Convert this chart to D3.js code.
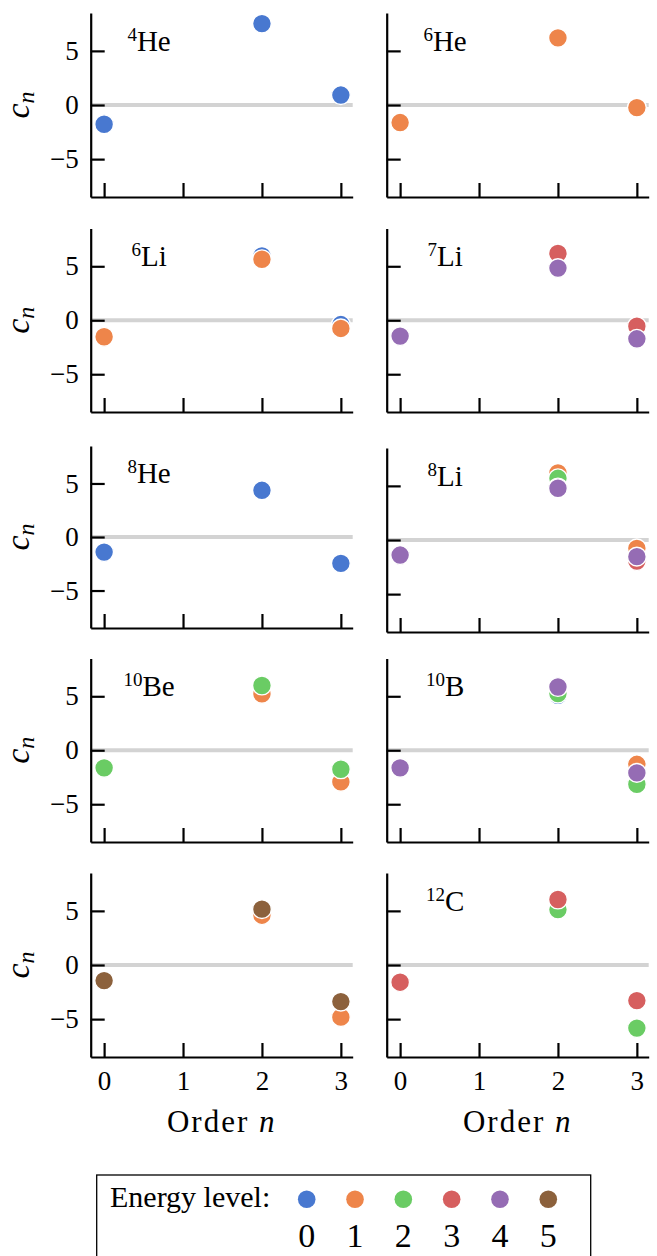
<!DOCTYPE html>
<html>
<head>
<meta charset="utf-8">
<script src="https://cdn.jsdelivr.net/npm/d3@7"></script>
<style>
  html, body { margin: 0; padding: 0; background: #fff; }
  svg { display: block; }
  svg text { font-family: "Liberation Serif", serif !important; fill: #000; }
</style>
</head>
<body>
<svg id="chart" width="657" height="1256"></svg>
<script>
// ---------------- data ----------------
const orders = [0, 2, 3];                 // order n of each value below
const xTicks = [0, 1, 2, 3];
const yTicks = [-5, 0, 5];
const levels = [0, 1, 2, 3, 4, 5];
const levelColors = ["#4878d0", "#ee854a", "#6acc64", "#d65f5f", "#956cb4", "#8c613c"];

const massNumbers = ["4", "6", "6", "7", "8", "8", "10", "10", "", "12"];
const symbols     = ["He", "He", "Li", "Li", "He", "Li", "Be", "B", "", "C"];

// each entry: energy level and c_n for n = 0, 2, 3
const he4  = [{ level: 0, c: [-1.78, 7.52, 0.92] }];
const he6  = [{ level: 1, c: [-1.62, 6.20, -0.24] }];
const li6  = [{ level: 0, c: [-1.50, 5.96, -0.40] },
              { level: 1, c: [-1.53, 5.65, -0.76] }];
const li7  = [{ level: 3, c: [-1.45, 6.20, -0.55] },
              { level: 4, c: [-1.47, 4.83, -1.72] }];
const he8  = [{ level: 0, c: [-1.41, 4.36, -2.46] }];
const li8  = [{ level: 1, c: [-1.40, 6.20, -0.77] },
              { level: 2, c: [-1.40, 5.70, -1.65] },
              { level: 3, c: [-1.40, 4.85, -1.95] },
              { level: 4, c: [-1.39, 4.78, -1.54] }];
const be10 = [{ level: 1, c: [-1.60, 5.22, -2.93] },
              { level: 2, c: [-1.63, 6.00, -1.76] }];
const b10  = [{ level: 0, c: [-1.60, 5.09, -1.80] },
              { level: 1, c: [-1.60, 5.50, -1.30] },
              { level: 2, c: [-1.60, 5.25, -3.15] },
              { level: 4, c: [-1.63, 5.86, -2.10] }];
const c12b = [{ level: 1, c: [-1.45, 4.60, -4.82] },
              { level: 5, c: [-1.44, 5.16, -3.38] }];
const c12  = [{ level: 2, c: [-1.60, 5.12, -5.83] },
              { level: 3, c: [-1.59, 6.05, -3.29] }];

const panelSeries = [he4, he6, li6, li7, he8, li8, be10, b10, c12b, c12];

// ---------------- layout ----------------
const FONT = "Liberation Serif";
const svg = d3.select("#chart");
const colX = [90.7, 386.7];
const axW = 262;
const rowTop    = [[13, 13], [228.5, 228.5], [446, 448], [658.5, 658.5], [873, 873]];
const rowBottom = [[197, 197], [412, 412], [628, 632], [842, 842], [1057, 1057]];
const xDomain = [-0.17, 3.15];
const yDomain = [-8.5, 8.5];

panelSeries.forEach((series, i) => {
  const row = Math.floor(i / 2), col = i % 2;
  const x = d3.scaleLinear().domain(xDomain).range([colX[col], colX[col] + axW]);
  const y = d3.scaleLinear().domain(yDomain).range([rowBottom[row][col], rowTop[row][col]]);
  const g = svg.append("g");

  // zero reference line
  g.append("line")
    .attr("x1", x.range()[0]).attr("x2", x.range()[1])
    .attr("y1", y(0)).attr("y2", y(0))
    .attr("stroke", "#d3d3d3").attr("stroke-width", 4);

  // y axis
  const yAxis = d3.axisLeft(y).tickValues(yTicks).tickSize(-14).tickSizeOuter(0).tickPadding(12)
    .tickFormat(col === 0 ? d3.format("d") : () => "");
  const ya = g.append("g").attr("transform", `translate(${x.range()[0]},0)`).call(yAxis)
    .attr("font-family", FONT).attr("font-size", 27);
  ya.select(".domain").attr("stroke", "#000").attr("stroke-width", 2.2);
  ya.selectAll(".tick line").attr("stroke", "#000").attr("stroke-width", 2.2);
  ya.selectAll(".tick text").attr("font-size", 27).attr("font-family", FONT);

  // x axis
  const xAxis = d3.axisBottom(x).tickValues(xTicks).tickSize(-14).tickSizeOuter(0).tickPadding(14)
    .tickFormat(row === 4 ? d3.format("d") : () => "");
  const xa = g.append("g").attr("transform", `translate(0,${y.range()[0]})`).call(xAxis)
    .attr("font-family", FONT).attr("font-size", 27);
  xa.select(".domain").attr("stroke", "#000").attr("stroke-width", 2.2);
  xa.selectAll(".tick line").attr("stroke", "#000").attr("stroke-width", 2.2);
  xa.selectAll(".tick text").attr("font-size", 27).attr("font-family", FONT);

  // points, drawn level by level
  series.forEach(s => {
    g.selectAll(null).data(s.c.map((v, k) => ({ n: orders[k], v })))
      .join("circle")
      .attr("cx", d => x(d.n)).attr("cy", d => y(d.v))
      .attr("r", 9.4)
      .attr("fill", levelColors[s.level])
      .attr("stroke", "#fff").attr("stroke-width", 1.4);
  });

  // nucleus label
  if (symbols[i]) {
    const t = g.append("text")
      .attr("x", x(0.57)).attr("y", y(5))
      .attr("text-anchor", "middle").attr("font-size", 29).attr("font-family", FONT);
    t.append("tspan").attr("font-size", 19).attr("dy", -10).text(massNumbers[i]);
    t.append("tspan").attr("dy", 10).text(symbols[i]);
  }

  // y label
  if (col === 0) {
    const cy = (y.range()[0] + y.range()[1]) / 2;
    const lab = g.append("text")
      .attr("transform", `translate(29,${cy}) rotate(-90)`)
      .attr("text-anchor", "middle").attr("font-size", 34).attr("font-style", "italic")
      .attr("font-family", FONT);
    lab.append("tspan").text("c");
    lab.append("tspan").attr("font-size", 24).attr("dy", 5).text("n");
  }

  // x label
  if (row === 4) {
    const lab = g.append("text")
      .attr("x", (x.range()[0] + x.range()[1]) / 2).attr("y", 1132)
      .attr("text-anchor", "middle").attr("font-size", 31).attr("letter-spacing", 2)
      .attr("font-family", FONT);
    lab.append("tspan").text("Order ");
    lab.append("tspan").attr("font-style", "italic").text("n");
  }
});

// ---------------- legend ----------------
const leg = svg.append("g");
leg.append("rect")
  .attr("x", 96.7).attr("y", 1175).attr("width", 494).attr("height", 110)
  .attr("fill", "#fff").attr("stroke", "#000").attr("stroke-width", 1.3);
leg.append("text").attr("x", 110).attr("y", 1207).attr("font-size", 30)
  .attr("font-family", FONT).text("Energy level:");
const lx = d3.scalePoint().domain(levels).range([306.7, 548.3]);
leg.selectAll("circle.key").data(levels).join("circle")
  .attr("class", "key")
  .attr("cx", d => lx(d)).attr("cy", 1199.3).attr("r", 8.8)
  .attr("fill", d => levelColors[d]);
leg.selectAll("text.key").data(levels).join("text")
  .attr("class", "key")
  .attr("x", d => lx(d)).attr("y", 1247)
  .attr("text-anchor", "middle").attr("font-size", 34).attr("font-family", FONT)
  .text(d => d);
</script>
</body>
</html>
